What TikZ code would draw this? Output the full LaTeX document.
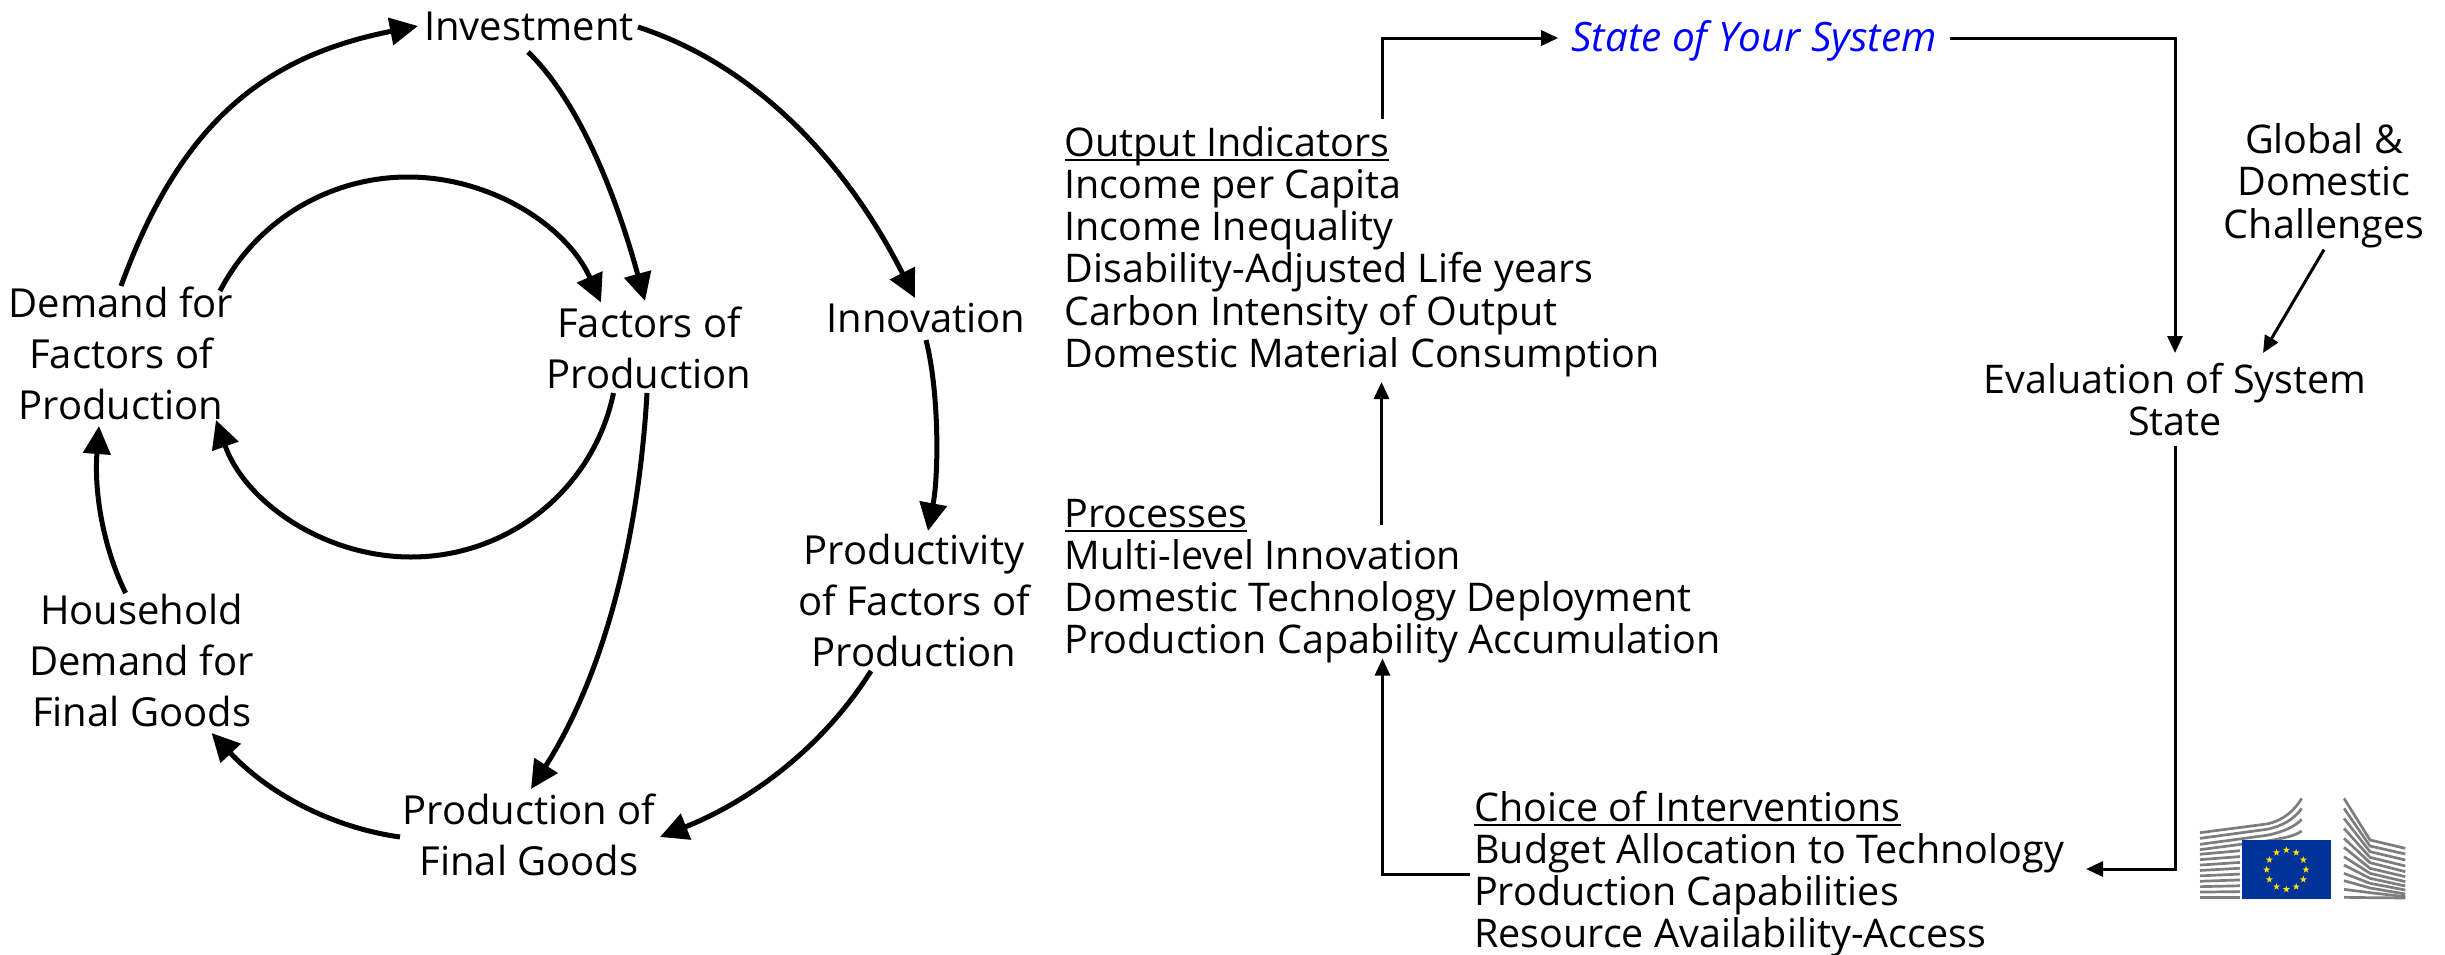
\documentclass[tikz,border=0pt]{standalone}
\usepackage{fontspec}
\setmainfont{Open Sans}
\usetikzlibrary{arrows.meta}
\definecolor{eublue}{RGB}{0,51,153}
\definecolor{euyellow}{RGB}{255,225,0}
\definecolor{eugray}{RGB}{125,125,125}
\newcommand{\myul}[1]{\leavevmode\setbox0\hbox{#1}\rlap{\rule[-5pt]{\wd0}{2pt}}\box0}
\newcommand{\sft}[3]{([shift={(#1,#2)}]#3)}
\tikzset{
  leftlab/.style={inner sep=0pt,align=center,font=\fontsize{40}{51}\selectfont},
  rightlab/.style={inner sep=0pt,align=left,anchor=west,font=\fontsize{39.5}{42.2}\selectfont},
  midlab/.style={inner sep=0pt,align=center,font=\fontsize{39.5}{42.2}\selectfont},
  bigarr/.style={line width=5pt,-{Triangle[length=28pt,width=27pt]}},
  smallarr/.style={line width=3pt,-{Triangle[length=17pt,width=15pt]}},
  bar/.style={line width=2.7pt,eugray}
}
\begin{document}
\begin{tikzpicture}[x=1pt,y=-1pt]
\useasboundingbox (0,0) rectangle (2445,954);
% left cycle
\node[leftlab] (inv) at (529,26) {Investment};
\node[leftlab] (dem) at (121,353) {Demand for\\Factors of\\Production};
\node[leftlab] (fac) at (649,348) {Factors of\\Production};
\node[leftlab] (inn) at (926,318) {Innovation};
\node[leftlab] (pty) at (914,600) {Productivity\\of Factors of\\Production};
\node[leftlab] (hou) at (141.6,660) {Household\\Demand for\\Final Goods};
\node[leftlab] (pro) at (529,835) {Production of\\Final Goods};
\draw[bigarr] \sft{0}{-67}{dem.center} .. controls (181,121) and (266,56) .. \sft{-111}{0}{inv.center};
\draw[bigarr] \sft{-1}{26}{inv.center} .. controls (572,94) and (611,177) .. \sft{-4}{-47}{fac.center};
\draw[bigarr] \sft{109}{1}{inv.center} .. controls (749,63) and (842,154) .. \sft{-11}{-20}{inn.center};
\draw[bigarr] \sft{0}{22}{inn.center} .. controls (939,391) and (939,473) .. \sft{14}{-69}{pty.center};
\draw[bigarr] \sft{-43}{71}{pty.center} .. controls (825,744) and (755,799) .. \sft{131}{2}{pro.center};
\draw[bigarr] \sft{-129}{2}{pro.center} .. controls (329,827) and (267,792) .. \sft{70}{73}{hou.center};
\draw[bigarr] \sft{-16}{-67}{hou.center} .. controls (103,547) and (94,492) .. \sft{-22}{73}{dem.center};
\draw[bigarr] \sft{-2}{45}{fac.center} .. controls (638,549) and (600,681) .. \sft{2}{-46}{pro.center};
\draw[bigarr] \sft{99}{-62}{dem.center} .. controls (256,221) and (329,177) .. (408,177) .. controls (491,177) and (567,226) .. \sft{-48}{-45.5}{fac.center};
\draw[bigarr] \sft{-35.5}{45}{fac.center} .. controls (593.5,489) and (509,557) .. (411,557) .. controls (324,557) and (245,502) .. \sft{95}{67}{dem.center};
% right system
\node[rightlab] (out) at (1064.5,251.5) {\myul{Output Indicators}\\Income per Capita\\Income Inequality\\Disability-Adjusted Life years\\Carbon Intensity of Output\\Domestic Material Consumption};
\node[rightlab] (prc) at (1064.5,581) {\myul{Processes}\\Multi-level Innovation\\Domestic Technology Deployment\\Production Capability Accumulation};
\node[rightlab] (cho) at (1474,874) {\myul{Choice of Interventions}\\Budget Allocation to Technology\\Production Capabilities\\Resource Availability-Access};
\node[midlab,text={rgb,255:red,0;green,0;blue,255},font=\fontsize{40.5}{42.2}\selectfont\itshape] (sta) at (1754,41) {State of Your System};
\node[midlab] (eva) at (2175,399.5) {Evaluation of System\\State};
\node[midlab] (glo) at (2324,185.6) {Global \&\\Domestic\\Challenges};
\draw[smallarr] \sft{318}{-132.5}{out.west} |- \sft{-13}{-3}{sta.west};
\draw[smallarr] \sft{13}{-3}{sta.east} -| \sft{0}{-46.5}{eva.center};
\draw[smallarr] \sft{0}{64}{glo.center} -- \sft{88}{-46.5}{eva.center};
\draw[smallarr] \sft{0}{46}{eva.center} |- \sft{612}{-5}{cho.west};
\draw[smallarr] \sft{-4}{0}{cho.west} -| \sft{318}{77.5}{prc.west};
\draw[smallarr] \sft{317}{-56.5}{prc.west} -- \sft{317}{130.5}{out.west};
% emblem
\begin{scope}[shift={(2150,760)},x=0.3333pt,y=-0.3333pt]
  \foreach \k in {4,...,12}{
    \pgfmathsetmacro{\ya}{218+16.2*\k}
    \pgfmathsetmacro{\yb}{\ya-16*(1-\k/12)}
    \draw[bar] (150,\ya) -- (270,\yb);
  }
  \draw[bar] (150,218) -- (350,192) .. controls (400,182) and (435,150) .. (455,115);
  \draw[bar] (150,235) -- (350,208) .. controls (400,198) and (435,175) .. (455,145);
  \draw[bar] (150,253) -- (350,226) .. controls (400,216) and (435,200) .. (455,178);
  \draw[bar] (150,269) -- (350,243) .. controls (400,235) and (435,228) .. (455,213);
  \foreach \a/\m/\b in {115/240/265,145/258/282,175/275/300,205/292/318,235/308/335,262/325/350,290/340/365,315/355/378,340/370/390,362/384/402,388/398/410,412/413/414}{
    \draw[bar] (582,\a) -- (660,\m) -- (766,\b);
  }
  \fill[eublue] (277,240) rectangle (542,417);
  \foreach \t in {0,30,...,330}{
    \fill[euyellow,shift={({409+59*cos(\t)},{329+59*sin(\t)})}]
      (270:11) -- (306:4.4) -- (342:11) -- (18:4.4) -- (54:11) -- (90:4.4) -- (126:11) -- (162:4.4) -- (198:11) -- (234:4.4) -- cycle;
  }
\end{scope}
\end{tikzpicture}
\end{document}
